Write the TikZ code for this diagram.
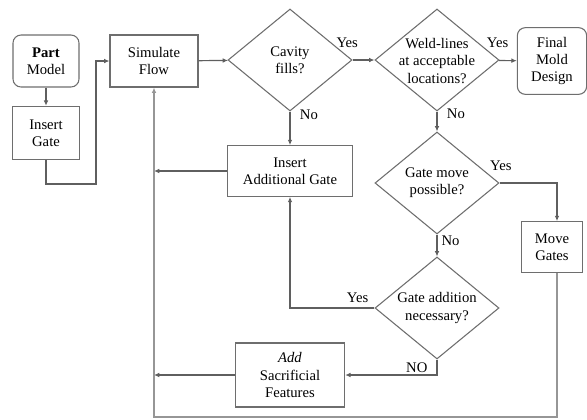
\documentclass[tikz,border=0pt]{standalone}
\usepackage{fontspec}
\setmainfont{Liberation Serif}
\newfontfamily\diagfont{Liberation Serif}
\usetikzlibrary{arrows.meta,positioning,shapes.geometric,calc}
\definecolor{linegray}{RGB}{95,95,95}
\definecolor{lightline}{RGB}{150,150,150}
\definecolor{boxgray}{RGB}{110,110,110}
\tikzset{
 stepbox/.style={rectangle,draw=boxgray,line width=0.8pt,fill=white,align=center,font=\diagfont\fontsize{11}{13}\selectfont,inner sep=1pt},
 endbox/.style={stepbox,rounded corners=6pt},
 decision/.style={diamond,draw=boxgray,line width=0.8pt,fill=white,minimum width=93pt,minimum height=76.5pt,inner sep=0pt},
 dtext/.style={align=center,font=\diagfont\fontsize{11}{13}\selectfont,inner sep=0pt},
 lbl/.style={font=\diagfont\fontsize{11}{13}\selectfont,inner sep=1pt},
 arrow/.style={-{Latex[length=4pt,width=3.5pt]},line width=0.9pt,draw=linegray}}
\begin{document}
\begin{tikzpicture}[x=0.75pt,y=-0.75pt]
\useasboundingbox (0,0) rectangle (587,419);
\node[endbox,minimum width=49.5pt,minimum height=39pt] (part) at (46,61) {\textbf{Part}\\Model};
\node[stepbox,minimum width=50pt,minimum height=40pt] (insgate) at (46,133) {Insert\\Gate};
\node[stepbox,minimum width=66pt,minimum height=39pt] (sim) at (154,61) {Simulate\\Flow};
\node[decision] (cavity) at (290,60) {};
\node[dtext] (cavitytxt) at (290,60) {Cavity\\fills?};
\node[decision] (weld) at (437,60) {};
\node[dtext] (weldtxt) at (437,61) {Weld-lines\\at acceptable\\locations?};
\node[endbox,minimum width=52pt,minimum height=50pt] (final) at (552,61) {Final\\Mold\\Design};
\node[stepbox,minimum width=94pt,minimum height=38pt] (insadd) at (290,171) {Insert\\Additional Gate};
\node[decision] (gmove) at (437,183) {};
\node[dtext] (gmovetxt) at (437,183) {Gate move\\possible?};
\node[stepbox,minimum width=46pt,minimum height=38pt] (move) at (552,247) {Move\\Gates};
\node[decision] (gadd) at (437,308) {};
\node[dtext] (gaddtxt) at (437,308) {Gate addition\\necessary?};
\node[stepbox,minimum width=82pt,minimum height=48pt] (sacr) at (290,375) {\textit{Add}\\Sacrificial\\Features};
\coordinate (loop) at (154,417);
\draw[arrow] (part)--(insgate); \draw[arrow] (sim)--(cavity);
\draw[arrow] (insgate.south) |- (96,184) |- (sim.west);
\draw[arrow] (cavity)--node[lbl,above=8pt,pos=0,xshift=-4pt]{Yes}(weld); \draw[arrow] (weld)--node[lbl,above=8pt,pos=0,xshift=-1pt]{Yes}(final);
\draw[arrow] (cavity)--node[lbl,right=6pt,pos=0.1]{No}(insadd); \draw[arrow] (weld)--node[lbl,right=6pt,pos=0.1]{No}(gmove);
\draw[arrow] (gmove.east) -| node[lbl,above=8pt,pos=0,xshift=1pt]{Yes}([xshift=3.75pt]move.north);
\draw[arrow] (gmove)--node[lbl,right=2pt,pos=0.3]{No}(gadd);
\draw[arrow,line width=1.6pt] (gadd.west) -| node[lbl,above=2pt,pos=0.1]{Yes}(insadd.south);
\draw[arrow] (gadd.south) |- node[lbl,above,pos=0.61]{NO}(sacr.east);
\draw[arrow] (insadd.west)--(insadd.west -| sim.south); \draw[arrow] (sacr.west)--(sacr.west -| sim.south);
\draw[arrow,draw=lightline] ([xshift=3.75pt]move.south) |- (loop) -- (sim.south);
\end{tikzpicture}
\end{document}
